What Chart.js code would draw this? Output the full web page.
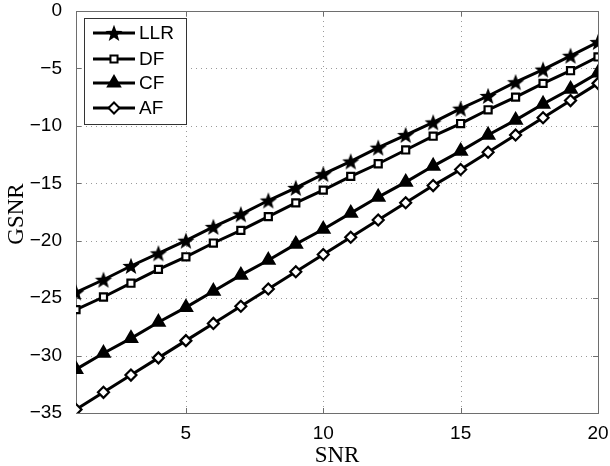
<!DOCTYPE html>
<html>
<head>
<meta charset="utf-8">
<script src="https://cdn.jsdelivr.net/npm/chart.js@4.4.1/dist/chart.umd.min.js"></script>
<style>
  html, body { margin: 0; padding: 0; background: #fff; }
  #wrap { width: 610px; height: 466px; }
</style>
</head>
<body>
<div id="wrap"><canvas id="chart" width="610" height="466"></canvas></div>
<script>
// data
const snr = [1, 2, 3, 4, 5, 6, 7, 8, 9, 10, 11, 12, 13, 14, 15, 16, 17, 18, 19, 20];
const llr = [-24.5, -23.4, -22.2, -21.1, -20.0, -18.8, -17.7, -16.5, -15.4, -14.2, -13.1, -11.9, -10.8, -9.7, -8.5, -7.4, -6.2, -5.1, -3.9, -2.7];
const df  = [-26.0, -24.9, -23.7, -22.5, -21.4, -20.2, -19.1, -17.9, -16.7, -15.6, -14.4, -13.3, -12.1, -10.9, -9.8, -8.6, -7.5, -6.3, -5.2, -4.0];
const cf  = [-31.2, -29.8, -28.5, -27.1, -25.8, -24.4, -23.0, -21.7, -20.3, -19.0, -17.6, -16.2, -14.9, -13.5, -12.2, -10.8, -9.5, -8.1, -6.8, -5.4];
const af  = [-34.7, -33.2, -31.7, -30.2, -28.7, -27.2, -25.7, -24.2, -22.7, -21.2, -19.7, -18.2, -16.7, -15.2, -13.8, -12.3, -10.8, -9.3, -7.8, -6.3];
const xTicks = [5, 10, 15, 20];
const yTicks = [0, -5, -10, -15, -20, -25, -30, -35];
const seriesNames = ['LLR', 'DF', 'CF', 'AF'];

// filled five point star (chart.js 'star' is only an asterisk)
function makeStar(r) {
    const c = document.createElement('canvas');
    const s = Math.ceil(r * 2 + 2);
    c.width = s; c.height = s;
    const g = c.getContext('2d');
    g.translate(s / 2, s / 2 + 0.8);
    g.beginPath();
    for (let i = 0; i < 10; i++) {
        const rad = i % 2 === 0 ? r : r * 0.42;
        const a = -Math.PI / 2 + i * Math.PI / 5;
        g.lineTo(Math.cos(a) * rad, Math.sin(a) * rad);
    }
    g.closePath();
    g.fillStyle = '#000';
    g.fill();
    return c;
}
const star = makeStar(9);

function pts(arr) {
    return arr.map((v, i) => ({x: snr[i], y: v}));
}

const base = {borderColor: '#000', borderWidth: 3, pointBorderColor: '#000', pointBorderWidth: 2.2, tension: 0};
const datasets = [
    Object.assign({}, base, {label: seriesNames[0], data: pts(llr), pointStyle: star}),
    Object.assign({}, base, {label: seriesNames[1], data: pts(df), pointStyle: 'rect', pointRadius: 5, pointBackgroundColor: '#fff'}),
    Object.assign({}, base, {label: seriesNames[2], data: pts(cf), pointStyle: 'triangle', pointRadius: 7, pointBackgroundColor: '#000'}),
    Object.assign({}, base, {label: seriesNames[3], data: pts(af), pointStyle: 'rectRot', pointRadius: 5.5, pointBackgroundColor: '#fff'})
];

const frame = {
    id: 'frame',
    beforeDatasetsDraw(chart) {
        const ctx = chart.ctx, a = chart.chartArea;
        const xs = chart.scales.x, ys = chart.scales.y;
        ctx.save();
        ctx.strokeStyle = '#9a9a9a';
        ctx.lineWidth = 1;
        ctx.setLineDash([1, 4]);
        xTicks.forEach(v => {
            const px = Math.round(xs.getPixelForValue(v)) + 0.5;
            ctx.beginPath(); ctx.moveTo(px, a.top); ctx.lineTo(px, a.bottom); ctx.stroke();
        });
        yTicks.forEach(v => {
            const py = Math.round(ys.getPixelForValue(v)) + 0.5;
            ctx.beginPath(); ctx.moveTo(a.left, py); ctx.lineTo(a.right, py); ctx.stroke();
        });
        ctx.setLineDash([]);
        ctx.strokeStyle = '#6e6e6e';
        ctx.strokeRect(a.left + 0.5, a.top + 0.5, a.right - a.left, a.bottom - a.top);
        // inside tick marks
        xTicks.forEach(v => {
            const px = Math.round(xs.getPixelForValue(v)) + 0.5;
            ctx.beginPath();
            ctx.moveTo(px, a.bottom); ctx.lineTo(px, a.bottom - 5);
            ctx.moveTo(px, a.top); ctx.lineTo(px, a.top + 5);
            ctx.stroke();
        });
        yTicks.forEach(v => {
            const py = Math.round(ys.getPixelForValue(v)) + 0.5;
            ctx.beginPath();
            ctx.moveTo(a.left, py); ctx.lineTo(a.left + 5, py);
            ctx.moveTo(a.right, py); ctx.lineTo(a.right - 5, py);
            ctx.stroke();
        });
        ctx.restore();
    },
    afterDraw(chart) {
        const ctx = chart.ctx, a = chart.chartArea;
        ctx.save();
        // axis titles
        ctx.fillStyle = '#000';
        ctx.font = '23px "Liberation Serif", "Times New Roman", serif';
        ctx.textAlign = 'center';
        ctx.textBaseline = 'middle';
        ctx.fillText('SNR', (a.left + a.right) / 2, 456);
        ctx.translate(17, 214);
        ctx.rotate(-Math.PI / 2);
        ctx.fillText('GSNR', 0, 0);
        ctx.restore();

        // legend box in the upper left
        ctx.save();
        const bx = 84, by = 18, bw = 102, bh = 106;
        ctx.fillStyle = '#fff';
        ctx.fillRect(bx, by, bw, bh);
        ctx.strokeStyle = '#333';
        ctx.lineWidth = 1;
        ctx.strokeRect(bx + 0.5, by + 0.5, bw, bh);
        const rows = [33, 59, 83, 108];
        ctx.font = '19px "Liberation Sans", Arial, sans-serif';
        ctx.textBaseline = 'middle';
        ctx.textAlign = 'left';
        chart.data.datasets.forEach((ds, i) => {
            const y = rows[i];
            ctx.strokeStyle = '#000';
            ctx.lineWidth = 3;
            ctx.beginPath(); ctx.moveTo(93, y); ctx.lineTo(135, y); ctx.stroke();
            ctx.lineWidth = 2;
            ctx.fillStyle = ds.pointBackgroundColor || '#000';
            ctx.strokeStyle = '#000';
            Chart.helpers.drawPoint(ctx, {pointStyle: ds.pointStyle, radius: ds.pointRadius || 6, rotation: 0, borderWidth: 2}, 114, y);
            ctx.fillStyle = '#000';
            ctx.fillText(ds.label, 139, y + 1);
        });
        ctx.restore();
    }
};

const tickFont = {size: 19, family: '"Liberation Sans", Arial, sans-serif'};

new Chart(document.getElementById('chart'), {
    type: 'line',
    data: {datasets: datasets},
    options: {
        responsive: false,
        animation: false,
        layout: {padding: {top: 11, right: 12, left: 0, bottom: 0}},
        plugins: {legend: {display: false}, tooltip: {enabled: false}},
        elements: {point: {radius: 6, hoverRadius: 6}},
        scales: {
            x: {
                type: 'linear',
                min: 1,
                max: 20,
                afterBuildTicks: s => { s.ticks = xTicks.map(v => ({value: v})); },
                afterFit: s => { s.height = 53; s.paddingLeft = 0; s.paddingRight = 0; },
                grid: {display: false},
                border: {display: false},
                ticks: {color: '#000', font: tickFont, padding: 1, maxRotation: 0}
            },
            y: {
                min: -35,
                max: 0,
                afterBuildTicks: s => { s.ticks = yTicks.map(v => ({value: v})); },
                afterFit: s => { s.width = 76; s.paddingTop = 0; s.paddingBottom = 0; },
                grid: {display: false},
                border: {display: false},
                ticks: {
                    color: '#000', font: tickFont, padding: 6,
                    callback: v => String(v).replace('-', '\u2212')
                }
            }
        }
    },
    plugins: [frame]
});
</script>
</body>
</html>
